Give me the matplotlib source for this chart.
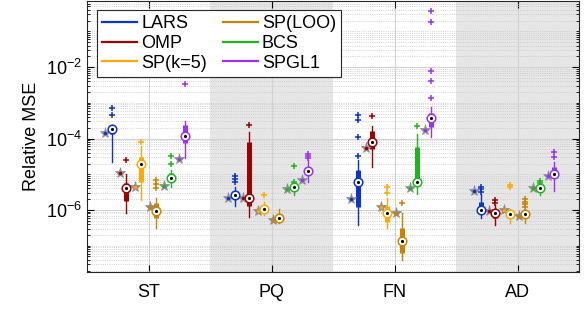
import matplotlib
matplotlib.use("Agg")
import matplotlib.pyplot as plt
from matplotlib.ticker import FixedLocator, NullFormatter
from matplotlib.lines import Line2D

plt.rcParams['font.family'] = ['Liberation Sans', 'DejaVu Sans']
plt.rcParams['mathtext.fontset'] = 'custom'
plt.rcParams['mathtext.rm'] = 'Liberation Sans'

groups = ['ST', 'PQ', 'FN', 'AD']
methods = ['LARS', 'OMP', 'SP(k=5)', 'SP(LOO)', 'BCS', 'SPGL1']
colors = ['#0a32d2', '#a00000', '#ffa800', '#cc8400', '#1fb51f', '#9b30ff']

# per group: [whisker low, q1, median, q3, whisker high]
lars_stats = [[2.2e-5, 1.35e-4, 1.85e-4, 2.4e-4, 2.4e-4],
              [1.3e-6, 2.35e-6, 2.6e-6, 3.25e-6, 4.4e-6],
              [3.9e-7, 1.2e-6, 5.9e-6, 1.3e-5, 2.5e-5],
              [5.9e-7, 9.0e-7, 9.8e-7, 1.65e-6, 2.8e-6]]
lars_out = [[7.3e-4, 4.5e-4], [8.9e-6, 7.2e-6, 6.0e-6],
            [4.5e-4, 3.4e-4, 1.1e-4, 3.3e-5], [4.5e-6, 3.8e-6, 3.1e-6]]
lars_ref = [1.45e-4, 2.2e-6, 2.05e-6, 3.4e-6]

omp_stats = [[8.1e-7, 1.8e-6, 4.05e-6, 5.6e-6, 1.05e-5],
             [6.5e-7, 1.3e-6, 2.1e-6, 8.1e-5, 1.55e-4],
             [1.6e-5, 5.0e-5, 7.8e-5, 1.6e-4, 2.3e-4],
             [3.8e-7, 5.9e-7, 8.1e-7, 1.0e-6, 1.4e-6]]
omp_out = [[2.5e-5], [2.4e-4], [4.3e-4], [1.9e-6, 1.6e-6]]
omp_ref = [1.1e-5, 2.1e-6, 5.5e-5, 9.4e-7]

spk_stats = [[1.9e-6, 6.2e-6, 2.0e-5, 3.1e-5, 6.0e-5],
             [7.2e-7, 8.1e-7, 1.05e-6, 1.25e-6, 1.7e-6],
             [3.1e-7, 4.5e-7, 8.4e-7, 1.3e-6, 2.1e-6],
             [4.2e-7, 6.8e-7, 7.6e-7, 9.4e-7, 1.1e-6]]
spk_out = [[8.0e-5], [2.6e-6], [4.3e-6, 2.9e-6], [5.0e-6, 4.5e-6]]
spk_ref = [4.3e-6, 9.4e-7, 1.25e-6, 1.0e-6]

sploo_stats = [[3.1e-7, 5.9e-7, 9.5e-7, 1.6e-6, 2.1e-6],
               [4.2e-7, 4.7e-7, 5.9e-7, 6.8e-7, 1.1e-6],
               [4.0e-8, 6.2e-8, 1.36e-7, 3.1e-7, 8.1e-7],
               [4.2e-7, 6.5e-7, 7.6e-7, 9.0e-7, 1.05e-6]]
sploo_out = [[6.9e-6, 5.3e-6, 4.1e-6], [], [1.55e-6],
             [2.0e-6, 1.7e-6, 1.47e-6, 1.25e-6]]
sploo_ref = [1.2e-6, 5.2e-7, 8.4e-7, 6.8e-7]

bcs_stats = [[4.3e-6, 6.2e-6, 8.0e-6, 1.1e-5, 1.3e-5],
             [2.6e-6, 3.8e-6, 4.5e-6, 5.2e-6, 5.7e-6],
             [2.8e-6, 5.8e-6, 6.0e-6, 5.7e-5, 1.35e-4],
             [2.6e-6, 3.6e-6, 4.2e-6, 4.8e-6, 5.2e-6]]
bcs_out = [[3.2e-5, 2.0e-5], [1.7e-5, 6.2e-6], [2.3e-4], [6.6e-6, 5.6e-6]]
bcs_ref = [4.7e-6, 3.8e-6, 4.2e-6, 4.05e-6]

spgl_stats = [[2.8e-5, 7.6e-5, 1.2e-4, 2.4e-4, 3.1e-4],
              [6.0e-6, 1.05e-5, 1.25e-5, 1.6e-5, 2.5e-5],
              [1.1e-4, 2.1e-4, 3.8e-4, 5.1e-4, 7.5e-4],
              [3.5e-6, 8.9e-6, 1.02e-5, 1.6e-5, 2.2e-5]]
spgl_out = [[3.3e-3], [3.7e-5, 3.2e-5, 2.8e-5],
            [0.36, 0.18, 7.7e-3, 4.1e-3, 1.4e-3], [4.2e-5, 3.05e-5]]
spgl_ref = [2.7e-5, 6.9e-6, 1.7e-4, 9.1e-6]

all_stats = [lars_stats, omp_stats, spk_stats, sploo_stats, bcs_stats, spgl_stats]
all_out = [lars_out, omp_out, spk_out, sploo_out, bcs_out, spgl_out]
all_ref = [lars_ref, omp_ref, spk_ref, sploo_ref, bcs_ref, spgl_ref]

offsets = [-0.3, -0.18, -0.06, 0.06, 0.18, 0.3]

fig = plt.figure(figsize=(5.86, 3.09), dpi=100)
ax = fig.add_axes([87/586, 1-271.5/309, 492/586, 270.8/309])

# shaded bands behind PQ and AD
for g in [2, 4]:
    ax.axvspan(g-0.5, g+0.5, color='#e6e6e6', lw=0, zorder=0)

for m in range(6):
    c = colors[m]
    for g in range(4):
        x = g + 1 + offsets[m]
        wlo, q1, med, q3, whi = all_stats[m][g]
        ax.plot([x, x], [wlo, whi], color=c, lw=1, zorder=3)
        ax.plot([x, x], [q1, q3], color=c, lw=3.6, solid_capstyle='butt', zorder=4)
        out = all_out[m][g]
        if out:
            ax.plot([x]*len(out), out, '+', color=c, ms=4.5, mew=1.1, zorder=4)
        ax.plot(x - 0.05, all_ref[m][g], '*', color='#8c8c8c', ms=8, mew=0.5, zorder=5)
        ax.plot(x - 0.05, all_ref[m][g], '.', color=c, ms=3, zorder=6)
        ax.plot(x, med, 'o', mfc='white', mec=c, ms=6.2, mew=1.1, zorder=6)
        ax.plot(x, med, '.', color='black', ms=2.5, zorder=7)

ax.set_yscale('log')
ax.set_ylim(1.9e-8, 0.72)
ax.set_xlim(0.5, 4.5)
ax.set_xticks([1, 2, 3, 4])
ax.set_xticklabels(groups, fontsize=13)
ax.yaxis.set_major_locator(FixedLocator([1e-6, 1e-4, 1e-2]))
ax.set_yticklabels([r'10$^{-6}$', r'10$^{-4}$', r'10$^{-2}$'], fontsize=13)
minors = [k*10.0**e for e in range(-9, 1) for k in range(1, 10)
          if not (k == 1 and e in (-6, -4, -2))]
ax.yaxis.set_minor_locator(FixedLocator(minors))
ax.yaxis.set_minor_formatter(NullFormatter())
ax.set_ylabel('Relative MSE', fontsize=13)

ax.tick_params(which='both', direction='in', top=True, right=True)
ax.tick_params(which='major', length=5, width=0.8)
ax.tick_params(which='minor', length=2.5, width=0.6)
ax.tick_params(axis='x', pad=9)
ax.set_axisbelow(True)
ax.grid(True, which='major', color='#d2d2d2', lw=0.8)
ax.grid(True, which='minor', axis='y', color='#c4c4c4', lw=0.6, ls=':')
for s in ax.spines.values():
    s.set_color('#262626')
    s.set_linewidth(0.8)

handles = [Line2D([], [], color=colors[i], lw=1.6) for i in range(6)]
leg = ax.legend(handles, methods, ncol=2, loc='upper left',
                bbox_to_anchor=(0.02, 0.966), borderaxespad=0, fontsize=13,
                fancybox=False, framealpha=1, edgecolor='#262626',
                handlelength=1.95, handletextpad=0.2, columnspacing=0.9,
                labelspacing=0.15, borderpad=0.3)
leg.get_frame().set_linewidth(0.8)

fig.savefig('out.png', dpi=100)
